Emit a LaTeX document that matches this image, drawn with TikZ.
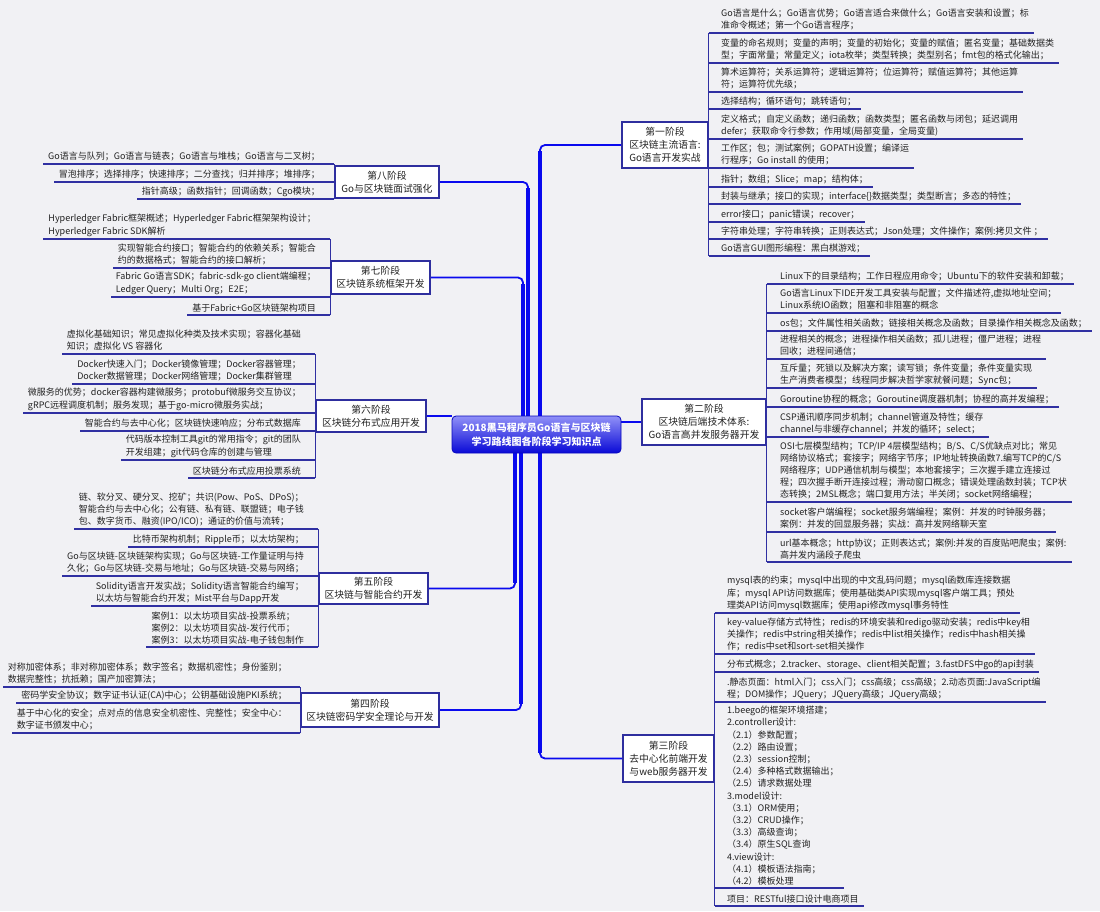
\documentclass[tikz,border=0pt]{standalone}
\usepackage{fontspec}
\setmainfont{Noto Sans CJK SC}
\newcommand\leaffont{\fontsize{9.0}{12.2}\selectfont}
\newcommand\stagefont{\fontsize{9.8}{13}\selectfont}
\newcommand\rootfont{\fontsize{10}{14}\selectfont\bfseries}
\definecolor{bgc}{HTML}{F1F1F4}
\definecolor{ulc}{HTML}{3030A2}
\definecolor{boxc}{HTML}{2E2E9E}
\definecolor{trk}{HTML}{0A0AEE}
\definecolor{txt}{HTML}{222222}
\pgfdeclarelayer{bg}
\pgfdeclarelayer{conn}
\pgfsetlayers{bg,conn,main}
\tikzset{
  leafR/.style={anchor=south west, inner xsep=5pt, inner ysep=2.5pt, align=left, font=\leaffont, text=txt},
  leafL/.style={anchor=south east, inner xsep=5pt, inner ysep=2.5pt, align=left, font=\leaffont, text=txt},
  ul/.style={draw=ulc, line width=1.2pt},
  stagebox/.style={draw=boxc, line width=1.1pt, fill=white, align=center, font=\stagefont, text=txt, inner sep=0pt},
  rootbox/.style={draw=trk!80!black, line width=0.8pt, rounded corners=4pt, top color=trk!45!white, bottom color=trk!90!black, align=center, font=\rootfont, text=white, inner sep=0pt, minimum width=169pt, minimum height=37pt},
  trunk/.style={draw=trk, line width=4.5pt},
  twig/.style={draw=trk, line width=1.8pt, rounded corners=5pt},
}
\begin{document}
\begin{tikzpicture}[x=1pt,y=-1pt]
\useasboundingbox (0,0) rectangle (1100,911);
\begin{pgfonlayer}{bg}
\fill[bgc] (0,0) rectangle (1100,911);
\end{pgfonlayer}

% root
\node[rootbox] (c) at (536.5,434.5) {2018黑马程序员Go语言与区块链\\学习路线图各阶段学习知识点};

% stages
\node[stagebox, minimum width=86pt, minimum height=46pt] (s1) at (665,145) {第一阶段\\区块链主流语言:\\Go语言开发实战};
\node[stagebox, minimum width=124pt, minimum height=46pt] (s2) at (704,422) {第二阶段\\区块链后端技术体系:\\Go语言高并发服务器开发};
\node[stagebox, minimum width=91pt, minimum height=47pt] (s3) at (668.5,758.5) {第三阶段\\去中心化前端开发\\与web服务器开发};
\node[stagebox, minimum width=138pt, minimum height=34pt] (s4) at (370,710) {第四阶段\\区块链密码学安全理论与开发};
\node[stagebox, minimum width=109pt, minimum height=31pt] (s5) at (373.5,588.5) {第五阶段\\区块链与智能合约开发};
\node[stagebox, minimum width=110pt, minimum height=32pt] (s6) at (371,416) {第六阶段\\区块链分布式应用开发};
\node[stagebox, minimum width=99pt, minimum height=33pt] (s7) at (380.5,277.5) {第七阶段\\区块链系统框架开发};
\node[stagebox, minimum width=104pt, minimum height=32pt] (s8) at (387,182) {第八阶段\\Go与区块链面试强化};

% trunk connectors
\coordinate (k1) at (540,145);
\coordinate (k3) at (540,758.5);
\coordinate (k8) at (528,182);
\coordinate (k7) at (523,277.5);
\coordinate (k5) at (515,588.5);
\coordinate (k4) at (521,710);
\begin{pgfonlayer}{conn}
\draw[trunk] (c.north -| k1) -- ([yshift=-6pt]k1);
\draw[twig] ([yshift=-14pt]k1) |- (s1.west);
\draw[trunk] (c.north -| k8) -- ([yshift=-6pt]k8);
\draw[twig] ([yshift=-14pt]k8) |- (s8.east);
\draw[trunk] (c.north -| k7) -- ([yshift=-6pt]k7);
\draw[twig] ([yshift=-14pt]k7) |- (s7.east);
\draw[trunk] (c.south -| k3) -- ([yshift=6pt]k3);
\draw[twig] ([yshift=14pt]k3) |- (s3.west);
\draw[trunk] (c.south -| k5) -- ([yshift=6pt]k5);
\draw[twig] ([yshift=14pt]k5) |- (s5.east);
\draw[trunk] (c.south -| k4) -- ([yshift=6pt]k4);
\draw[twig] ([yshift=14pt]k4) |- (s4.east);
\draw[twig, line width=2.2pt] (c.east |- s2.west) -- (s2.west);
\draw[twig, line width=2.2pt] (s6.east) -- (c.west |- s6.east);
\end{pgfonlayer}

% ---------- stage 1 leaves
\node[leafR] (a1) at (716,33) {Go语言是什么；Go语言优势；Go语言适合来做什么；Go语言安装和设置；标\\准命令概述；第一个Go语言程序；};
\node[leafR] (a2) at (716,63) {变量的命名规则；变量的声明；变量的初始化；变量的赋值；匿名变量；基础数据类\\型；字面常量；常量定义；iota枚举；类型转换；类型别名；fmt包的格式化输出；};
\node[leafR] (a3) at (716,92) {算术运算符；关系运算符；逻辑运算符；位运算符；赋值运算符；其他运算\\符；运算符优先级；};
\node[leafR] (a4) at (716,109) {选择结构；循环语句；跳转语句；};
\node[leafR] (a5) at (716,139) {定义格式；自定义函数；递归函数；函数类型；匿名函数与闭包；延迟调用\\defer；获取命令行参数；作用域(局部变量，全局变量)};
\node[leafR] (a6) at (716,168) {工作区；包；测试案例；GOPATH设置；编译运\\行程序；Go install 的使用；};
\node[leafR] (a7) at (716,187) {指针；数组；Slice；map；结构体；};
\node[leafR] (a8) at (716,204) {封装与继承；接口的实现；interface\{\}数据类型；类型断言；多态的特性；};
\node[leafR] (a9) at (716,222) {error接口；panic错误；recover；};
\node[leafR] (a10) at (716,239) {字符串处理；字符串转换；正则表达式；Json处理；文件操作；案例:拷贝文件 ；};
\node[leafR] (a11) at (716,256) {Go语言GUI图形编程：黑白棋游戏；};
\draw[ul] (s1.east |- a1.south) -- (s1.east |- a11.south);
\foreach \i in {1,...,11} \draw[ul] (s1.east |- a\i.south) -- (a\i.south east);

% ---------- stage 2 leaves
\node[leafR] (b1) at (775,284) {Linux下的目录结构；工作日程应用命令；Ubuntu下的软件安装和卸载；};
\node[leafR] (b2) at (775,313) {Go语言Linux下IDE开发工具安装与配置；文件描述符,虚拟地址空间；\\Linux系统IO函数；阻塞和非阻塞的概念};
\node[leafR] (b3) at (775,331) {os包；文件属性相关函数；链接相关概念及函数；目录操作相关概念及函数；};
\node[leafR] (b4) at (775,359) {进程相关的概念；进程操作相关函数；孤儿进程；僵尸进程；进程\\回收；进程间通信；};
\node[leafR] (b5) at (775,388) {互斥量；死锁以及解决方案；读写锁；条件变量；条件变量实现\\生产消费者模型；线程同步解决哲学家就餐问题；Sync包；};
\node[leafR] (b6) at (775,407) {Goroutine协程的概念；Goroutine调度器机制；协程的高并发编程；};
\node[leafR] (b7) at (775,437) {CSP通讯顺序同步机制；channel管道及特性；缓存\\channel与非缓存channel；并发的循环；select；};
\node[leafR] (b8) at (775,502) {OSI七层模型结构；TCP/IP 4层模型结构；B/S、C/S优缺点对比；常见\\网络协议格式；套接字；网络字节序；IP地址转换函数7.编写TCP的C/S\\网络程序；UDP通信机制与模型；本地套接字；三次握手建立连接过\\程；四次握手断开连接过程；滑动窗口概念；错误处理函数封装；TCP状\\态转换；2MSL概念；端口复用方法；半关闭；socket网络编程；};
\node[leafR] (b9) at (775,532) {socket客户端编程；socket服务端编程；案例：并发的时钟服务器；\\案例：并发的回显服务器；实战：高并发网络聊天室};
\node[leafR] (b10) at (775,562) {url基本概念；http协议；正则表达式；案例:并发的百度贴吧爬虫；案例:\\高并发内涵段子爬虫};
\draw[ul] (s2.east |- b1.south) -- (s2.east |- b10.south);
\foreach \i in {1,...,10} \draw[ul] (s2.east |- b\i.south) -- (b\i.south east);

% ---------- stage 3 leaves
\node[leafR] (c1) at (722,613) {mysql表的约束；mysql中出现的中文乱码问题；mysql函数库连接数据\\库；mysql API访问数据库；使用基础类API实现mysql客户端工具；预处\\理类API访问mysql数据库；使用api修改mysql事务特性};
\node[leafR] (c2) at (722,654) {key-value存储方式特性；redis的环境安装和redigo驱动安装；redis中key相\\关操作；redis中string相关操作；redis中list相关操作；redis中hash相关操\\作；redis中set和sort-set相关操作};
\node[leafR] (c3) at (722,672) {分布式概念；2.tracker、storage、client相关配置；3.fastDFS中go的api封装};
\node[leafR] (c4) at (722,702) {.静态页面：html入门；css入门；css高级；css高级；2.动态页面:JavaScript编\\程；DOM操作；JQuery；JQuery高级；JQuery高级；};
\node[leafR] (c5) at (722,888) {1.beego的框架环境搭建；\\2.controller设计:\\（2.1）参数配置；\\（2.2）路由设置；\\（2.3）session控制；\\（2.4）多种格式数据输出；\\（2.5）请求数据处理\\3.model设计:\\（3.1）ORM使用；\\（3.2）CRUD操作；\\（3.3）高级查询；\\（3.4）原生SQL查询\\4.view设计:\\（4.1）模板语法指南；\\（4.2）模板处理};
\node[leafR] (c6) at (722,906) {项目：RESTful接口设计电商项目};
\draw[ul] (s3.east |- c1.south) -- (s3.east |- c6.south);
\foreach \i in {1,...,6} \draw[ul] (s3.east |- c\i.south) -- (c\i.south east);

% ---------- stage 8 leaves
\node[leafL] (h1) at (325,164) {Go语言与队列；Go语言与链表；Go语言与堆栈；Go语言与二叉树；};
\node[leafL] (h2) at (325,182) {冒泡排序；选择排序；快速排序；二分查找；归并排序；堆排序；};
\node[leafL] (h3) at (325,199) {指针高级；函数指针；回调函数；Cgo模块；};
\draw[ul] (s8.west |- h1.south) -- (s8.west |- h3.south);
\foreach \i in {1,...,3} \draw[ul] (s8.west |- h\i.south) -- (h\i.south west);

% ---------- stage 7 leaves
\node[leafL] (g1) at (321,239) {Hyperledger Fabric框架概述；Hyperledger Fabric框架架构设计；\\Hyperledger Fabric SDK解析};
\node[leafL] (g2) at (321,268) {实现智能合约接口；智能合约的依赖关系；智能合\\约的数据格式；智能合约的接口解析；};
\node[leafL] (g3) at (321,297) {Fabric Go语言SDK；fabric-sdk-go client端编程；\\Ledger Query；Multi Org；E2E；};
\node[leafL] (g4) at (321,315) {基于Fabric+Go区块链架构项目};
\draw[ul] (s7.west |- g1.south) -- (s7.west |- g4.south);
\foreach \i in {1,...,4} \draw[ul] (s7.west |- g\i.south) -- (g\i.south west);

% ---------- stage 6 leaves
\node[leafL] (f1) at (306,354) {虚拟化基础知识；常见虚拟化种类及技术实现；容器化基础\\知识；虚拟化 VS 容器化};
\node[leafL] (f2) at (306,384) {Docker快速入门；Docker镜像管理；Docker容器管理；\\Docker数据管理；Docker网络管理；Docker集群管理};
\node[leafL] (f3) at (306,413) {微服务的优势；docker容器构建微服务；protobuf微服务交互协议；\\gRPC远程调度机制；服务发现；基于go-micro微服务实战；};
\node[leafL] (f4) at (306,431) {智能合约与去中心化；区块链快速响应；分布式数据库};
\node[leafL] (f5) at (306,460) {代码版本控制工具git的常用指令；git的团队\\开发组建；git代码仓库的创建与管理};
\node[leafL] (f6) at (306,478) {区块链分布式应用投票系统};
\draw[ul] (s6.west |- f1.south) -- (s6.west |- f6.south);
\foreach \i in {1,...,6} \draw[ul] (s6.west |- f\i.south) -- (f\i.south west);

% ---------- stage 5 leaves
\node[leafL] (e1) at (309,529) {链、软分叉、硬分叉、挖矿；共识(Pow、PoS、DPoS)；\\智能合约与去中心化；公有链、私有链、联盟链；电子钱\\包、数字货币、融资(IPO/ICO)；通证的价值与流转；};
\node[leafL] (e2) at (309,547) {比特币架构机制；Ripple币；以太坊架构；};
\node[leafL] (e3) at (309,576) {Go与区块链-区块链架构实现；Go与区块链-工作量证明与持\\久化；Go与区块链-交易与地址；Go与区块链-交易与网络；};
\node[leafL] (e4) at (309,606) {Solidity语言开发实战；Solidity语言智能合约编写；\\以太坊与智能合约开发；Mist平台与Dapp开发};
\node[leafL] (e5) at (309,647) {案例1：以太坊项目实战-投票系统；\\案例2：以太坊项目实战-发行代币；\\案例3：以太坊项目实战-电子钱包制作};
\draw[ul] (s5.west |- e1.south) -- (s5.west |- e5.south);
\foreach \i in {1,...,5} \draw[ul] (s5.west |- e\i.south) -- (e\i.south west);

% ---------- stage 4 leaves
\node[leafL] (d1) at (292,687) {对称加密体系；非对称加密体系；数字签名；数据机密性；身份鉴别；\\数据完整性；抗抵赖；国产加密算法；};
\node[leafL] (d2) at (292,703) {密码学安全协议；数字证书认证(CA)中心；公钥基础设施PKI系统；};
\node[leafL] (d3) at (292,733) {基于中心化的安全；点对点的信息安全机密性、完整性；安全中心：\\数字证书颁发中心；};
\draw[ul] (s4.west |- d1.south) -- (s4.west |- d3.south);
\foreach \i in {1,...,3} \draw[ul] (s4.west |- d\i.south) -- (d\i.south west);
\end{tikzpicture}
\end{document}
